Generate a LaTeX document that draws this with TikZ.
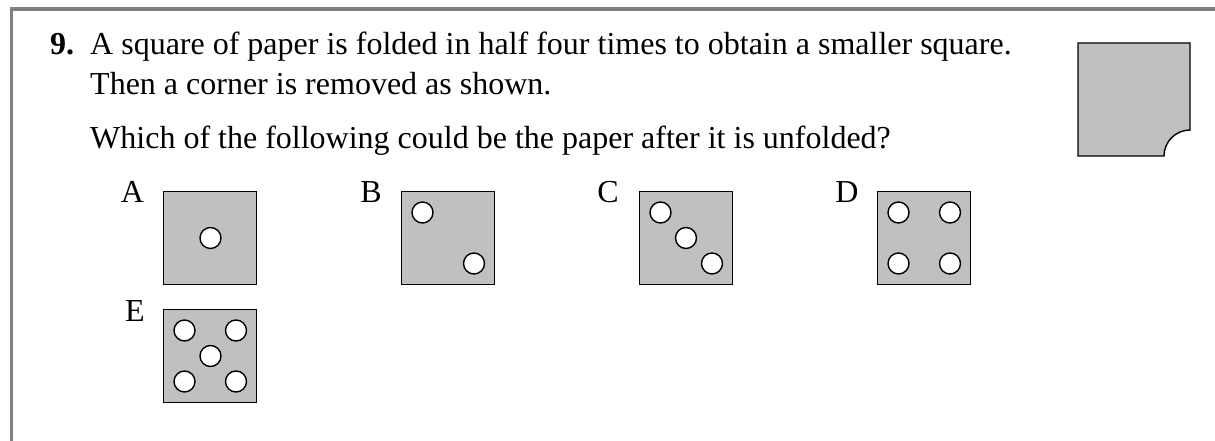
\documentclass[tikz,border=0pt]{standalone}
\usepackage{fontspec}
\setmainfont{Liberation Serif}
\begin{document}
\begin{tikzpicture}[x=1pt,y=-1pt,
  txt/.style={inner sep=0pt,anchor=base west,font=\fontsize{32}{38}\selectfont},
  lbl/.style={inner sep=0pt,anchor=base,font=\fontsize{32}{38}\selectfont},
  paper/.style={fill=paperfill,draw=black,line width=1.4pt},
  hole/.style={fill=white,draw=black,line width=1.4pt},
  frame/.style={draw=framegray,line width=3.2pt}]
\definecolor{paperfill}{HTML}{C0C0C0}
\definecolor{framegray}{HTML}{808080}
\useasboundingbox (0,0) rectangle (1215,441);
% frame
\draw[frame] (11.5,441) -- (11.5,9) -- (1215,9);
% text
\node[txt] (num) at (50,55) {\textbf{9.}};
\node[txt] (l1) at (90,55) {A square of paper is folded in half four times to obtain a smaller square.};
\node[txt] (l2) at (90,95) {Then a corner is removed as shown.};
\node[txt] (l3) at (90,148) {Which of the following could be the paper after it is unfolded?};
% folded square
\draw[paper] (1078,43) -- (1190,43) -- (1190,130) arc[start angle=270,end angle=180,radius=26] -- (1078,156) -- cycle;
% labels
\node[lbl] (la) at (132.5,202) {A};
\node[lbl] (lb) at (371,202) {B};
\node[lbl] (lc) at (608,202) {C};
\node[lbl] (ld) at (847,202) {D};
\node[lbl] (le) at (135,321) {E};
% A
\draw[paper] (163.5,191.5) rectangle (256.5,284.5);
\draw[hole] (210.5,238) circle[radius=10.5];
% B
\draw[paper] (401.5,191.5) rectangle (494.5,284.5);
\draw[hole] (422.5,212.5) circle[radius=10.5];
\draw[hole] (474,263.5) circle[radius=10.5];
% C
\draw[paper] (639.5,191.5) rectangle (732.5,284.5);
\draw[hole] (660.5,212.5) circle[radius=10.5];
\draw[hole] (686,238) circle[radius=10.5];
\draw[hole] (712,263.5) circle[radius=10.5];
% D
\draw[paper] (877.5,191.5) rectangle (970.5,284.5);
\draw[hole] (898.5,212.5) circle[radius=10.5];
\draw[hole] (950,212.5) circle[radius=10.5];
\draw[hole] (898.5,263.5) circle[radius=10.5];
\draw[hole] (950,263.5) circle[radius=10.5];
% E
\draw[paper] (163.5,309.5) rectangle (256.5,402.5);
\draw[hole] (184.5,330.5) circle[radius=10.5];
\draw[hole] (236,330.5) circle[radius=10.5];
\draw[hole] (210.5,356) circle[radius=10.5];
\draw[hole] (184.5,381.5) circle[radius=10.5];
\draw[hole] (236,381.5) circle[radius=10.5];
\end{tikzpicture}
\end{document}
